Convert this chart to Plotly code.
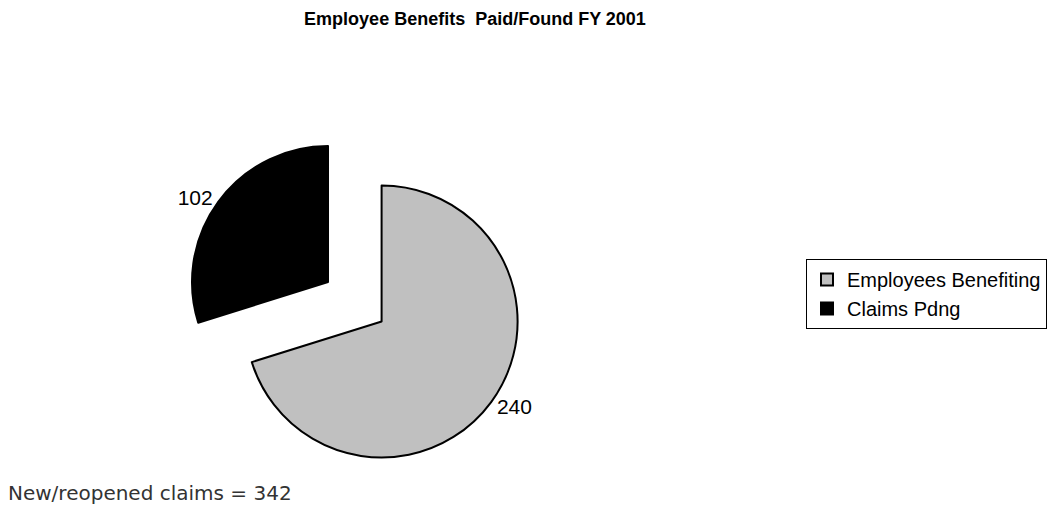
import plotly.graph_objects as go

labels = ["Employees Benefiting", "Claims Pdng"]
values = [240, 102]
colors = ["#c0c0c0", "#000000"]
pulls = [0.2445, 0.2445]
title_text = "Employee Benefits  Paid/Found FY 2001"
footer_text = "New/reopened claims = 342"

W, H = 1058, 508

fig = go.Figure(
    go.Pie(
        labels=labels,
        values=values,
        marker=dict(colors=colors, line=dict(color="#000000", width=2)),
        pull=pulls,
        sort=False,
        direction="clockwise",
        rotation=0,
        textinfo="value",
        textposition="outside",
        textfont=dict(family="Liberation Sans, Arial", size=21, color="#000000"),
        domain=dict(x=[0.16782, 0.48776], y=[0.08848, 0.75482]),
        hoverinfo="label+value",
    )
)

fig.update_layout(
    width=W,
    height=H,
    margin=dict(l=0, r=0, t=0, b=0, autoexpand=False),
    paper_bgcolor="#ffffff",
    plot_bgcolor="#ffffff",
    title=dict(
        text="<b>" + title_text + "</b>",
        x=467 / W,
        xanchor="center",
        xref="paper",
        yref="container",
        y=1 - 4 / H,
        yanchor="top",
        pad=dict(t=0, b=0),
        font=dict(family="Liberation Sans, Arial", size=18, color="#000000"),
    ),
    legend=dict(
        x=798 / W,
        xanchor="left",
        y=1 - 251 / H,
        yanchor="top",
        bordercolor="#000000",
        borderwidth=1,
        bgcolor="#ffffff",
        font=dict(family="Liberation Sans, Arial", size=20, color="#000000"),
        itemwidth=30,
    ),
    annotations=[
        dict(
            text=footer_text,
            x=-0.002,
            xref="paper",
            xanchor="left",
            y=1 - 485 / H,
            yref="paper",
            yanchor="middle",
            showarrow=False,
            font=dict(family="DejaVu Sans", size=20, color="#333333"),
        )
    ],
)

fig.write_html("out.html")
